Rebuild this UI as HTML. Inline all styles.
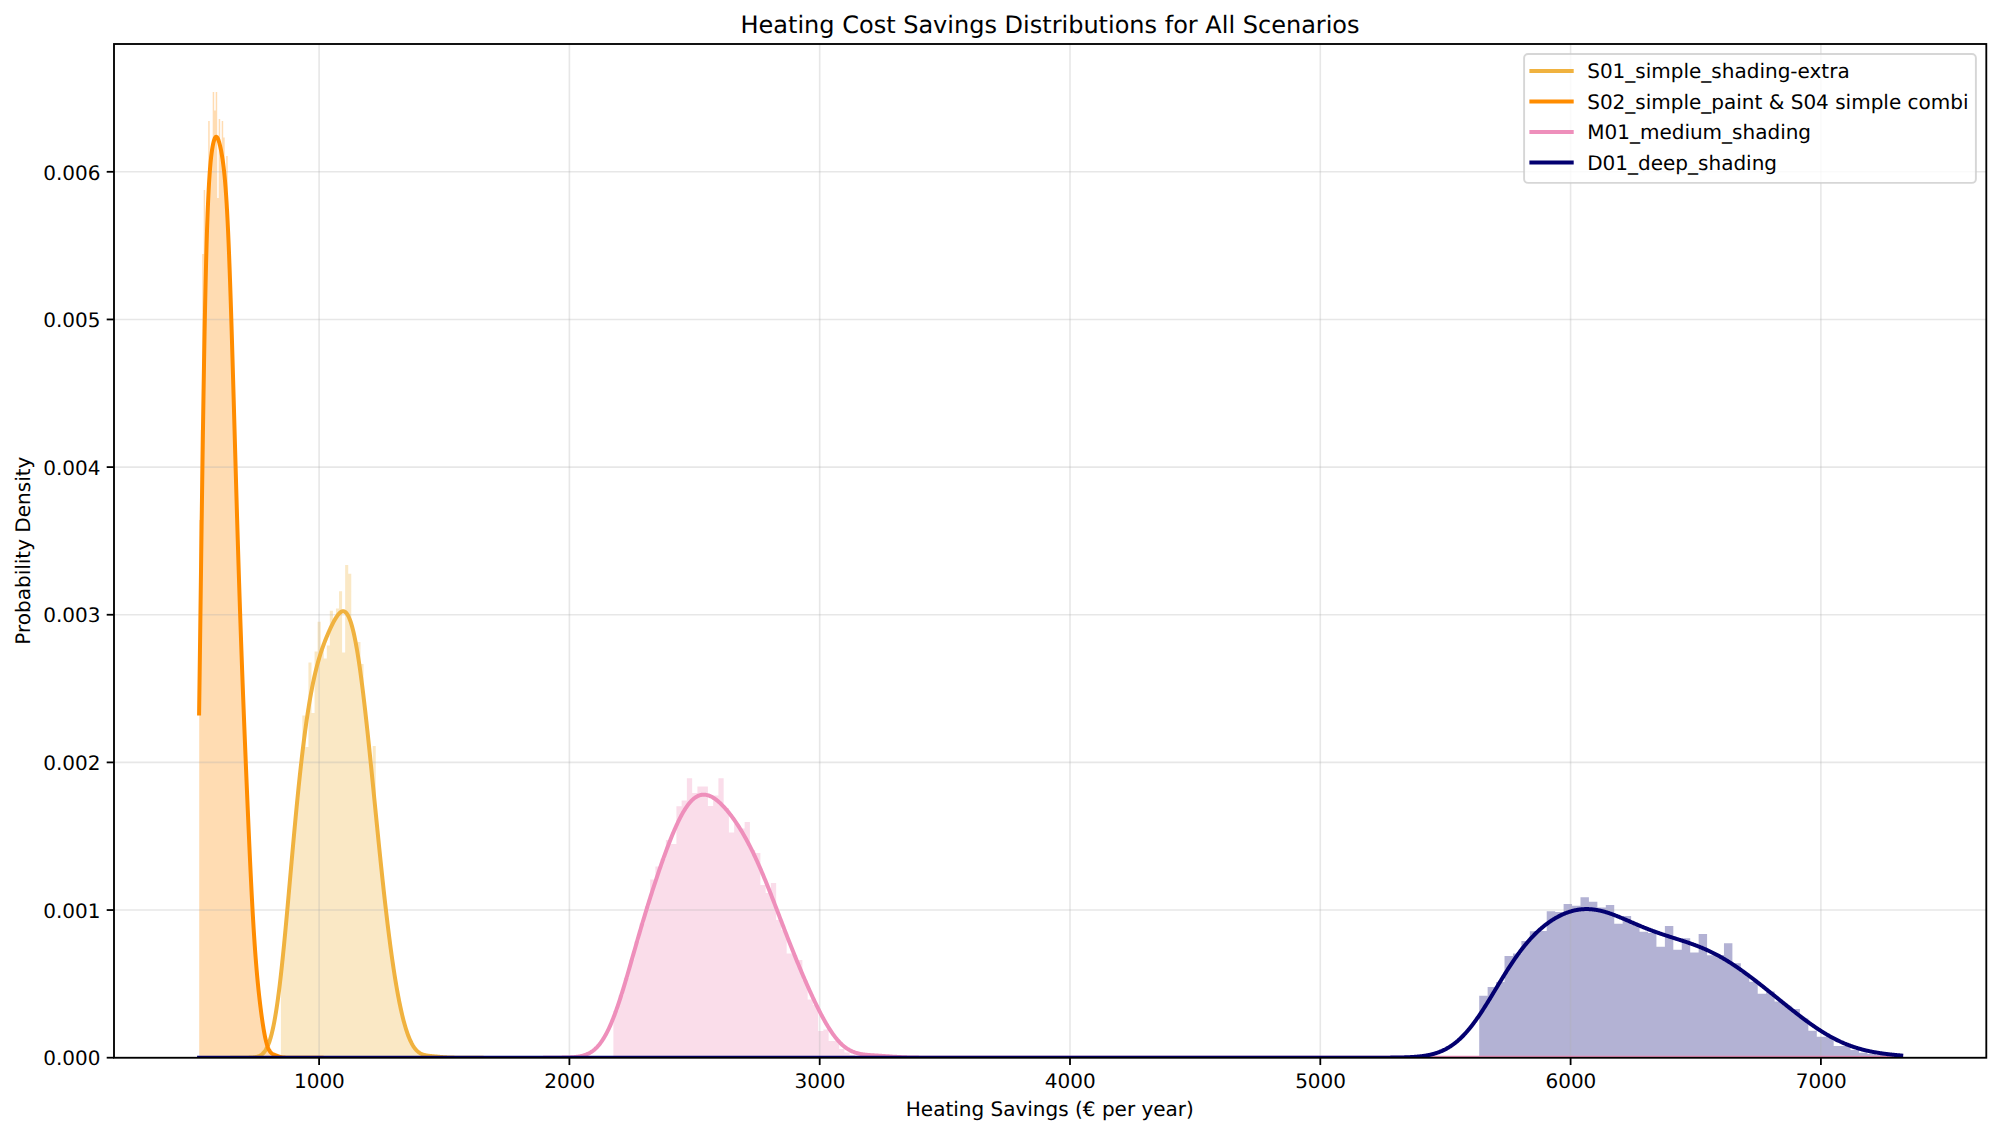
<!DOCTYPE html>
<html lang="en"><head><meta charset="utf-8"><title>Heating Cost Savings Distributions for All Scenarios</title>
<style>html,body{margin:0;padding:0;background:#fff}svg{display:block}</style></head>
<body>
<svg width="2000" height="1134" viewBox="0 0 2000 1134">
<defs><clipPath id="ax"><rect x="114.00" y="44.00" width="1872.30" height="1013.75"/></clipPath></defs>
<rect width="2000" height="1134" fill="#fff"/>
<g clip-path="url(#ax)">
<path d="M280.90,1059.70V960.64H283.96V929.56H287.02V895.96H290.08V861.49H293.14V827.70H296.20V795.85H299.26V766.78H302.32V715.60H305.38V747.00H308.44V662.50H311.50V713.00H314.56V651.50H317.62V621.80H320.68V648.64H323.74V658.50H326.80V645.50H329.86V610.80H332.92V620.36H335.98V608.50H339.04V591.20H342.10V652.50H345.16V565.00H348.22V573.80H351.28V629.30H354.34V643.56H357.40V642.00H360.46V664.00H363.52V709.62H366.58V737.58H369.64V767.28H372.70V746.00H375.76V828.67H378.82V858.81H381.88V887.68H384.94V914.73H388.00V939.57H391.06V961.93H394.12V981.68H397.18V998.77H400.24V1013.23H403.30V1025.13H406.36V1034.62H409.42V1041.89H412.48V1047.20H415.54V1050.85H418.60V1053.19H421.66V1054.59H424.72V1055.39H427.78V1055.85H430.84V1056.17H433.90V1059.70Z" fill="#f0b23f" fill-opacity="0.3"/>
<path d="M199.20,1059.70V520.00H200.70V430.00H202.20V254.00H203.70V190.00H205.20V268.18H206.70V217.70H208.20V121.00H209.70V163.71H211.20V150.66H212.70V92.00H214.20V110.50H215.70V92.00H217.20V198.00H218.70V119.00H220.20V149.96H221.70V121.00H223.20V137.50H224.70V186.22H226.20V156.00H227.70V239.61H229.20V278.28H230.70V323.79H232.20V374.02H233.70V426.51H235.20V479.02H236.70V529.88H238.20V578.06H239.70V623.17H241.20V665.28H242.70V704.84H244.20V742.49H245.70V778.78H247.20V813.93H248.70V847.70H250.20V879.42H251.70V908.28H253.20V933.65H254.70V955.35H256.20V973.69H257.70V989.28H259.20V1002.77H260.70V1014.61H262.20V1024.96H263.70V1033.75H265.20V1040.83H266.70V1046.16H268.20V1049.83H269.70V1052.15H271.20V1053.52H272.70V1054.37H274.20V1059.70Z" fill="#ff8c00" fill-opacity="0.3"/>
<path d="M613.40,1059.70V1010.82H618.65V995.16H623.90V977.90H629.15V959.78H634.40V941.50H639.65V923.56H644.90V906.24H650.15V879.50H655.40V866.50H660.65V858.74H665.90V840.00H671.15V844.00H676.40V806.20H681.65V800.50H686.90V778.30H692.15V793.00H697.40V786.50H702.65V786.50H707.90V806.00H713.15V795.50H718.40V778.30H723.65V808.00H728.90V832.50H734.15V824.00H739.40V828.50H744.65V822.00H749.90V850.00H755.15V853.00H760.40V885.00H765.65V893.00H770.90V883.00H776.15V920.00H781.40V930.00H786.65V953.50H791.90V955.09H797.15V960.00H802.40V980.16H807.65V999.50H812.90V1005.00H818.15V1031.00H823.40V1029.50H828.65V1041.00H833.90V1041.00H839.15V1049.00H844.40V1052.50H849.65V1055.00H854.90V1056.00H860.15V1056.50H865.40V1057.00H870.65V1057.00H875.90V1059.70Z" fill="#ee8fbb" fill-opacity="0.3"/>
<path d="M1479.20,1059.70V995.70H1487.64V987.00H1496.08V982.00H1504.52V956.00H1512.96V953.50H1521.40V941.00H1529.84V931.30H1538.28V931.00H1546.72V911.30H1555.16V912.00H1563.60V904.00H1572.04V905.80H1580.48V897.30H1588.92V901.70H1597.36V907.50H1605.80V905.00H1614.24V923.70H1622.68V916.00H1631.12V923.00H1639.56V931.80H1648.00V933.00H1656.44V946.70H1664.88V926.00H1673.32V949.80H1681.76V938.30H1690.20V952.40H1698.64V934.00H1707.08V955.30H1715.52V955.00H1723.96V943.20H1732.40V963.30H1740.84V973.00H1749.28V981.80H1757.72V993.70H1766.16V991.50H1774.60V1001.50H1783.04V1005.80H1791.48V1009.00H1799.92V1018.50H1808.36V1030.80H1816.80V1036.80H1825.24V1036.80H1833.68V1046.00H1842.12V1046.00H1850.56V1050.00H1859.00V1052.80H1867.44V1054.00H1875.88V1055.00H1884.32V1056.00H1892.76V1056.50H1901.20V1059.70Z" fill="#030070" fill-opacity="0.3"/>
</g>
<g stroke="#b0b0b0" stroke-opacity="0.3" stroke-width="1.6" fill="none">
<line x1="319.10" y1="44.0" x2="319.10" y2="1057.75"/>
<line x1="569.40" y1="44.0" x2="569.40" y2="1057.75"/>
<line x1="819.70" y1="44.0" x2="819.70" y2="1057.75"/>
<line x1="1070.00" y1="44.0" x2="1070.00" y2="1057.75"/>
<line x1="1320.30" y1="44.0" x2="1320.30" y2="1057.75"/>
<line x1="1570.60" y1="44.0" x2="1570.60" y2="1057.75"/>
<line x1="1820.90" y1="44.0" x2="1820.90" y2="1057.75"/>
<line x1="114.0" y1="1057.70" x2="1986.3" y2="1057.70"/>
<line x1="114.0" y1="910.05" x2="1986.3" y2="910.05"/>
<line x1="114.0" y1="762.40" x2="1986.3" y2="762.40"/>
<line x1="114.0" y1="614.75" x2="1986.3" y2="614.75"/>
<line x1="114.0" y1="467.10" x2="1986.3" y2="467.10"/>
<line x1="114.0" y1="319.45" x2="1986.3" y2="319.45"/>
<line x1="114.0" y1="171.80" x2="1986.3" y2="171.80"/>
</g>
<g clip-path="url(#ax)" fill="none" stroke-width="4" stroke-linejoin="round" stroke-linecap="square">
<path d="M232.10,1057.70 L245.10,1057.68 L245.60,1057.68 L246.10,1057.67 L246.60,1057.67 L247.10,1057.66 L247.60,1057.65 L248.10,1057.64 L248.60,1057.63 L249.10,1057.62 L249.60,1057.60 L250.10,1057.59 L250.60,1057.57 L251.10,1057.54 L251.60,1057.51 L252.10,1057.48 L252.60,1057.44 L253.10,1057.40 L253.60,1057.35 L254.10,1057.29 L254.60,1057.23 L255.10,1057.15 L255.60,1057.06 L256.10,1056.97 L256.60,1056.85 L257.10,1056.73 L257.60,1056.58 L258.10,1056.42 L258.60,1056.24 L259.10,1056.04 L259.60,1055.81 L260.10,1055.55 L260.60,1055.26 L261.10,1054.94 L261.60,1054.59 L262.10,1054.19 L262.60,1053.75 L263.10,1053.27 L263.60,1052.74 L264.10,1052.16 L264.60,1051.51 L265.10,1050.81 L265.60,1050.04 L266.10,1049.21 L266.60,1048.29 L267.10,1047.31 L267.60,1046.23 L268.10,1045.07 L268.60,1043.82 L269.10,1042.48 L269.60,1041.03 L270.10,1039.48 L270.60,1037.82 L271.10,1036.04 L271.60,1034.15 L272.10,1032.14 L272.60,1030.00 L273.10,1027.74 L273.60,1025.34 L274.10,1022.81 L274.60,1020.15 L275.10,1017.35 L275.60,1014.41 L276.10,1011.33 L276.60,1008.12 L277.10,1004.76 L277.60,1001.26 L278.10,997.62 L278.60,993.85 L279.10,989.94 L279.60,985.89 L280.10,981.72 L280.60,977.42 L281.10,972.99 L281.60,968.44 L282.10,963.78 L282.60,959.01 L283.10,954.13 L283.60,949.16 L284.10,944.09 L284.60,938.93 L285.10,933.70 L285.60,928.39 L286.10,923.02 L286.60,917.58 L287.10,912.10 L287.60,906.57 L288.10,901.00 L288.60,895.40 L289.10,889.79 L289.60,884.15 L290.10,878.51 L290.60,872.87 L291.10,867.23 L291.60,861.60 L292.10,856.00 L292.60,850.42 L293.10,844.87 L293.60,839.35 L294.10,833.88 L294.60,828.46 L295.10,823.09 L295.60,817.77 L296.10,812.52 L296.60,807.33 L297.10,802.20 L297.60,797.15 L298.10,792.18 L298.60,787.28 L299.10,782.46 L299.60,777.72 L300.10,773.07 L300.60,768.50 L301.10,764.02 L301.60,759.62 L302.10,755.31 L302.60,751.10 L303.10,746.97 L303.60,742.93 L304.10,738.98 L304.60,735.12 L305.10,731.36 L305.60,727.68 L306.10,724.09 L306.60,720.59 L307.10,717.18 L307.60,713.85 L308.10,710.61 L308.60,707.46 L309.10,704.39 L309.60,701.40 L310.10,698.50 L310.60,695.67 L311.10,692.93 L311.60,690.26 L312.10,687.67 L312.60,685.15 L313.10,682.70 L313.60,680.33 L314.10,678.03 L314.60,675.79 L315.10,673.62 L315.60,671.51 L316.10,669.47 L316.60,667.48 L317.10,665.55 L317.60,663.68 L318.10,661.86 L318.60,660.09 L319.10,658.37 L319.60,656.70 L320.10,655.07 L320.60,653.48 L321.10,651.94 L321.60,650.43 L322.10,648.96 L322.60,647.53 L323.10,646.12 L323.60,644.75 L324.10,643.41 L324.60,642.09 L325.10,640.80 L325.60,639.53 L326.10,638.29 L326.60,637.06 L327.10,635.86 L327.60,634.68 L328.10,633.51 L328.60,632.37 L329.10,631.24 L329.60,630.13 L330.10,629.04 L330.60,627.96 L331.10,626.90 L331.60,625.87 L332.10,624.85 L332.60,623.85 L333.10,622.87 L333.60,621.92 L334.10,620.99 L334.60,620.09 L335.10,619.21 L335.60,618.37 L336.10,617.56 L336.60,616.79 L337.10,616.05 L337.60,615.35 L338.10,614.70 L338.60,614.10 L339.10,613.54 L339.60,613.04 L340.10,612.59 L340.60,612.20 L341.10,611.88 L341.60,611.62 L342.10,611.42 L342.60,611.31 L343.10,611.26 L343.60,611.30 L344.10,611.42 L344.60,611.62 L345.10,611.91 L345.60,612.30 L346.10,612.77 L346.60,613.35 L347.10,614.02 L347.60,614.79 L348.10,615.67 L348.60,616.65 L349.10,617.74 L349.60,618.94 L350.10,620.24 L350.60,621.66 L351.10,623.20 L351.60,624.84 L352.10,626.60 L352.60,628.48 L353.10,630.47 L353.60,632.57 L354.10,634.79 L354.60,637.12 L355.10,639.57 L355.60,642.13 L356.10,644.81 L356.60,647.59 L357.10,650.48 L357.60,653.48 L358.10,656.59 L358.60,659.81 L359.10,663.12 L359.60,666.54 L360.10,670.05 L360.60,673.66 L361.10,677.37 L361.60,681.17 L362.10,685.05 L362.60,689.02 L363.10,693.08 L363.60,697.21 L364.10,701.42 L364.60,705.71 L365.10,710.06 L365.60,714.48 L366.10,718.97 L366.60,723.52 L367.10,728.12 L367.60,732.78 L368.10,737.48 L368.60,742.24 L369.10,747.04 L369.60,751.87 L370.10,756.75 L370.60,761.65 L371.10,766.59 L371.60,771.54 L372.10,776.53 L372.60,781.53 L373.10,786.54 L373.60,791.57 L374.10,796.60 L374.60,801.64 L375.10,806.67 L375.60,811.71 L376.10,816.74 L376.60,821.76 L377.10,826.77 L377.60,831.76 L378.10,836.74 L378.60,841.69 L379.10,846.62 L379.60,851.52 L380.10,856.39 L380.60,861.22 L381.10,866.03 L381.60,870.79 L382.10,875.51 L382.60,880.19 L383.10,884.83 L383.60,889.41 L384.10,893.95 L384.60,898.44 L385.10,902.87 L385.60,907.25 L386.10,911.57 L386.60,915.83 L387.10,920.03 L387.60,924.18 L388.10,928.25 L388.60,932.27 L389.10,936.22 L389.60,940.11 L390.10,943.93 L390.60,947.68 L391.10,951.36 L391.60,954.98 L392.10,958.52 L392.60,962.00 L393.10,965.41 L393.60,968.74 L394.10,972.01 L394.60,975.20 L395.10,978.33 L395.60,981.38 L396.10,984.36 L396.60,987.27 L397.10,990.11 L397.60,992.88 L398.10,995.58 L398.60,998.20 L399.10,1000.76 L399.60,1003.24 L400.10,1005.66 L400.60,1008.00 L401.10,1010.28 L401.60,1012.49 L402.10,1014.63 L402.60,1016.70 L403.10,1018.71 L403.60,1020.64 L404.10,1022.52 L404.60,1024.32 L405.10,1026.06 L405.60,1027.74 L406.10,1029.35 L406.60,1030.90 L407.10,1032.39 L407.60,1033.82 L408.10,1035.19 L408.60,1036.50 L409.10,1037.75 L409.60,1038.95 L410.10,1040.08 L410.60,1041.17 L411.10,1042.20 L411.60,1043.18 L412.10,1044.10 L412.60,1044.98 L413.10,1045.81 L413.60,1046.59 L414.10,1047.33 L414.60,1048.02 L415.10,1048.67 L415.60,1049.28 L416.10,1049.85 L416.60,1050.38 L417.10,1050.88 L417.60,1051.34 L418.10,1051.76 L418.60,1052.16 L419.10,1052.52 L419.60,1052.86 L420.10,1053.17 L420.60,1053.46 L421.10,1053.72 L421.60,1053.96 L422.10,1054.18 L422.60,1054.38 L423.10,1054.56 L423.60,1054.73 L424.10,1054.88 L424.60,1055.01 L425.10,1055.14 L425.60,1055.25 L426.10,1055.36 L426.60,1055.45 L427.10,1055.54 L427.60,1055.62 L428.10,1055.69 L428.60,1055.76 L429.10,1055.82 L429.60,1055.88 L430.10,1055.94 L430.60,1055.99 L431.10,1056.04 L431.60,1056.09 L432.10,1056.14 L432.60,1056.19 L433.10,1056.24 L433.60,1056.28 L434.10,1056.33 L434.60,1056.38 L435.10,1056.42 L435.60,1056.47 L436.10,1056.51 L436.60,1056.56 L437.10,1056.60 L437.60,1056.65 L438.10,1056.70 L438.60,1056.74 L439.10,1056.79 L439.60,1056.83 L440.10,1056.88 L440.60,1056.92 L441.10,1056.96 L441.60,1057.00 L442.10,1057.04 L442.60,1057.08 L443.10,1057.12 L443.60,1057.16 L444.10,1057.20 L444.60,1057.23 L445.10,1057.26 L445.60,1057.30 L446.10,1057.33 L446.60,1057.36 L447.10,1057.38 L447.60,1057.41 L448.10,1057.43 L448.60,1057.46 L449.10,1057.48 L449.60,1057.50 L450.10,1057.52 L450.60,1057.54 L451.10,1057.55 L451.60,1057.57 L452.10,1057.58 L452.60,1057.59 L453.10,1057.60 L453.60,1057.61 L454.10,1057.62 L454.60,1057.63 L455.10,1057.64 L455.60,1057.65 L456.10,1057.65 L456.60,1057.66 L457.10,1057.66 L457.60,1057.67 L458.10,1057.67 L458.60,1057.68 L459.10,1057.68 L459.60,1057.68 L481.60,1057.70" stroke="#f0b23f"/>
<path d="M199.10,713.46 L199.60,676.87 L200.10,639.48 L200.60,601.70 L201.10,563.94 L201.60,526.59 L202.10,490.07 L202.60,454.74 L203.10,420.94 L203.60,388.95 L204.10,359.01 L204.60,331.29 L205.10,305.89 L205.60,282.88 L206.10,262.23 L206.60,243.90 L207.10,227.76 L207.60,213.68 L208.10,201.48 L208.60,190.99 L209.10,181.99 L209.60,174.30 L210.10,167.73 L210.60,162.12 L211.10,157.31 L211.60,153.19 L212.10,149.65 L212.60,146.62 L213.10,144.04 L213.60,141.88 L214.10,140.11 L214.60,138.72 L215.10,137.71 L215.60,137.07 L216.10,136.79 L216.60,136.88 L217.10,137.31 L217.60,138.07 L218.10,139.14 L218.60,140.49 L219.10,142.09 L219.60,143.93 L220.10,145.99 L220.60,148.25 L221.10,150.72 L221.60,153.41 L222.10,156.34 L222.60,159.55 L223.10,163.10 L223.60,167.04 L224.10,171.44 L224.60,176.38 L225.10,181.93 L225.60,188.17 L226.10,195.17 L226.60,202.98 L227.10,211.66 L227.60,221.23 L228.10,231.72 L228.60,243.12 L229.10,255.42 L229.60,268.58 L230.10,282.55 L230.60,297.27 L231.10,312.66 L231.60,328.64 L232.10,345.12 L232.60,362.01 L233.10,379.21 L233.60,396.63 L234.10,414.19 L234.60,431.80 L235.10,449.38 L235.60,466.87 L236.10,484.21 L236.60,501.34 L237.10,518.23 L237.60,534.83 L238.10,551.12 L238.60,567.09 L239.10,582.72 L239.60,597.99 L240.10,612.92 L240.60,627.51 L241.10,641.76 L241.60,655.70 L242.10,669.34 L242.60,682.70 L243.10,695.81 L243.60,708.68 L244.10,721.36 L244.60,733.85 L245.10,746.18 L245.60,758.36 L246.10,770.41 L246.60,782.35 L247.10,794.15 L247.60,805.83 L248.10,817.38 L248.60,828.76 L249.10,839.97 L249.60,850.98 L250.10,861.75 L250.60,872.25 L251.10,882.45 L251.60,892.33 L252.10,901.85 L252.60,910.99 L253.10,919.73 L253.60,928.06 L254.10,935.99 L254.60,943.50 L255.10,950.61 L255.60,957.33 L256.10,963.68 L256.60,969.68 L257.10,975.36 L257.60,980.74 L258.10,985.85 L258.60,990.72 L259.10,995.35 L259.60,999.79 L260.10,1004.03 L260.60,1008.09 L261.10,1011.99 L261.60,1015.72 L262.10,1019.28 L262.60,1022.68 L263.10,1025.91 L263.60,1028.97 L264.10,1031.84 L264.60,1034.53 L265.10,1037.03 L265.60,1039.34 L266.10,1041.44 L266.60,1043.35 L267.10,1045.07 L267.60,1046.59 L268.10,1047.94 L268.60,1049.11 L269.10,1050.11 L269.60,1050.98 L270.10,1051.70 L270.60,1052.32 L271.10,1052.83 L271.60,1053.26 L272.10,1053.62 L272.60,1053.93 L273.10,1054.20 L273.60,1054.44 L274.10,1054.66 L274.60,1054.87 L275.10,1055.07 L275.60,1055.27 L276.10,1055.47 L276.60,1055.66 L277.10,1055.86 L277.60,1056.05 L278.10,1056.23 L278.60,1056.41 L279.10,1056.58 L279.60,1056.73 L280.10,1056.88 L280.60,1057.01 L281.10,1057.13 L281.60,1057.23 L282.10,1057.32 L282.60,1057.39 L283.10,1057.46 L283.60,1057.51 L284.10,1057.55 L284.60,1057.59 L285.10,1057.62 L285.60,1057.64 L286.10,1057.65 L286.60,1057.67 L287.10,1057.68 L287.60,1057.68 L321.60,1057.70" stroke="#ff8c00"/>
<path d="M545.10,1057.70 L555.10,1057.68 L555.60,1057.68 L556.10,1057.68 L556.60,1057.67 L557.10,1057.67 L557.60,1057.67 L558.10,1057.67 L558.60,1057.66 L559.10,1057.66 L559.60,1057.65 L560.10,1057.65 L560.60,1057.64 L561.10,1057.64 L561.60,1057.63 L562.10,1057.62 L562.60,1057.62 L563.10,1057.61 L563.60,1057.60 L564.10,1057.59 L564.60,1057.58 L565.10,1057.57 L565.60,1057.56 L566.10,1057.54 L566.60,1057.53 L567.10,1057.52 L567.60,1057.50 L568.10,1057.48 L568.60,1057.46 L569.10,1057.44 L569.60,1057.42 L570.10,1057.39 L570.60,1057.37 L571.10,1057.34 L571.60,1057.31 L572.10,1057.27 L572.60,1057.24 L573.10,1057.20 L573.60,1057.16 L574.10,1057.12 L574.60,1057.07 L575.10,1057.02 L575.60,1056.97 L576.10,1056.91 L576.60,1056.85 L577.10,1056.78 L577.60,1056.71 L578.10,1056.64 L578.60,1056.56 L579.10,1056.47 L579.60,1056.38 L580.10,1056.29 L580.60,1056.18 L581.10,1056.08 L581.60,1055.96 L582.10,1055.84 L582.60,1055.71 L583.10,1055.57 L583.60,1055.43 L584.10,1055.28 L584.60,1055.11 L585.10,1054.94 L585.60,1054.76 L586.10,1054.57 L586.60,1054.37 L587.10,1054.16 L587.60,1053.94 L588.10,1053.71 L588.60,1053.46 L589.10,1053.20 L589.60,1052.93 L590.10,1052.65 L590.60,1052.35 L591.10,1052.04 L591.60,1051.71 L592.10,1051.37 L592.60,1051.02 L593.10,1050.65 L593.60,1050.26 L594.10,1049.85 L594.60,1049.43 L595.10,1048.99 L595.60,1048.53 L596.10,1048.05 L596.60,1047.56 L597.10,1047.04 L597.60,1046.50 L598.10,1045.95 L598.60,1045.37 L599.10,1044.78 L599.60,1044.16 L600.10,1043.52 L600.60,1042.86 L601.10,1042.17 L601.60,1041.46 L602.10,1040.74 L602.60,1039.98 L603.10,1039.21 L603.60,1038.41 L604.10,1037.58 L604.60,1036.74 L605.10,1035.86 L605.60,1034.97 L606.10,1034.05 L606.60,1033.10 L607.10,1032.13 L607.60,1031.14 L608.10,1030.12 L608.60,1029.08 L609.10,1028.01 L609.60,1026.92 L610.10,1025.81 L610.60,1024.67 L611.10,1023.50 L611.60,1022.32 L612.10,1021.11 L612.60,1019.87 L613.10,1018.62 L613.60,1017.34 L614.10,1016.04 L614.60,1014.71 L615.10,1013.37 L615.60,1012.00 L616.10,1010.61 L616.60,1009.21 L617.10,1007.78 L617.60,1006.33 L618.10,1004.87 L618.60,1003.38 L619.10,1001.88 L619.60,1000.36 L620.10,998.83 L620.60,997.28 L621.10,995.71 L621.60,994.13 L622.10,992.53 L622.60,990.93 L623.10,989.30 L623.60,987.67 L624.10,986.02 L624.60,984.37 L625.10,982.70 L625.60,981.02 L626.10,979.34 L626.60,977.64 L627.10,975.94 L627.60,974.24 L628.10,972.52 L628.60,970.80 L629.10,969.08 L629.60,967.35 L630.10,965.61 L630.60,963.87 L631.10,962.13 L631.60,960.39 L632.10,958.65 L632.60,956.91 L633.10,955.16 L633.60,953.42 L634.10,951.67 L634.60,949.93 L635.10,948.19 L635.60,946.44 L636.10,944.71 L636.60,942.97 L637.10,941.24 L637.60,939.51 L638.10,937.78 L638.60,936.06 L639.10,934.35 L639.60,932.63 L640.10,930.92 L640.60,929.22 L641.10,927.52 L641.60,925.83 L642.10,924.15 L642.60,922.46 L643.10,920.79 L643.60,919.12 L644.10,917.46 L644.60,915.80 L645.10,914.15 L645.60,912.51 L646.10,910.87 L646.60,909.24 L647.10,907.62 L647.60,906.00 L648.10,904.39 L648.60,902.79 L649.10,901.19 L649.60,899.60 L650.10,898.02 L650.60,896.44 L651.10,894.87 L651.60,893.31 L652.10,891.75 L652.60,890.20 L653.10,888.66 L653.60,887.12 L654.10,885.59 L654.60,884.07 L655.10,882.55 L655.60,881.04 L656.10,879.54 L656.60,878.04 L657.10,876.55 L657.60,875.07 L658.10,873.60 L658.60,872.13 L659.10,870.67 L659.60,869.21 L660.10,867.76 L660.60,866.32 L661.10,864.89 L661.60,863.46 L662.10,862.05 L662.60,860.63 L663.10,859.23 L663.60,857.84 L664.10,856.45 L664.60,855.07 L665.10,853.70 L665.60,852.34 L666.10,850.99 L666.60,849.65 L667.10,848.31 L667.60,846.99 L668.10,845.68 L668.60,844.37 L669.10,843.08 L669.60,841.80 L670.10,840.53 L670.60,839.26 L671.10,838.02 L671.60,836.78 L672.10,835.55 L672.60,834.34 L673.10,833.14 L673.60,831.96 L674.10,830.78 L674.60,829.63 L675.10,828.48 L675.60,827.35 L676.10,826.24 L676.60,825.14 L677.10,824.05 L677.60,822.98 L678.10,821.93 L678.60,820.89 L679.10,819.88 L679.60,818.87 L680.10,817.89 L680.60,816.92 L681.10,815.97 L681.60,815.04 L682.10,814.13 L682.60,813.24 L683.10,812.36 L683.60,811.51 L684.10,810.68 L684.60,809.86 L685.10,809.07 L685.60,808.29 L686.10,807.54 L686.60,806.81 L687.10,806.09 L687.60,805.40 L688.10,804.73 L688.60,804.09 L689.10,803.46 L689.60,802.85 L690.10,802.27 L690.60,801.71 L691.10,801.17 L691.60,800.65 L692.10,800.16 L692.60,799.68 L693.10,799.23 L693.60,798.80 L694.10,798.39 L694.60,798.01 L695.10,797.64 L695.60,797.30 L696.10,796.98 L696.60,796.68 L697.10,796.40 L697.60,796.14 L698.10,795.91 L698.60,795.69 L699.10,795.50 L699.60,795.33 L700.10,795.18 L700.60,795.04 L701.10,794.93 L701.60,794.84 L702.10,794.77 L702.60,794.72 L703.10,794.68 L703.60,794.67 L704.10,794.67 L704.60,794.70 L705.10,794.74 L705.60,794.80 L706.10,794.88 L706.60,794.97 L707.10,795.08 L707.60,795.21 L708.10,795.36 L708.60,795.52 L709.10,795.69 L709.60,795.89 L710.10,796.10 L710.60,796.32 L711.10,796.56 L711.60,796.81 L712.10,797.08 L712.60,797.36 L713.10,797.66 L713.60,797.97 L714.10,798.29 L714.60,798.62 L715.10,798.97 L715.60,799.33 L716.10,799.70 L716.60,800.09 L717.10,800.48 L717.60,800.89 L718.10,801.31 L718.60,801.74 L719.10,802.18 L719.60,802.63 L720.10,803.09 L720.60,803.56 L721.10,804.04 L721.60,804.54 L722.10,805.04 L722.60,805.55 L723.10,806.07 L723.60,806.60 L724.10,807.14 L724.60,807.68 L725.10,808.24 L725.60,808.80 L726.10,809.38 L726.60,809.96 L727.10,810.55 L727.60,811.15 L728.10,811.76 L728.60,812.37 L729.10,813.00 L729.60,813.63 L730.10,814.27 L730.60,814.92 L731.10,815.58 L731.60,816.24 L732.10,816.91 L732.60,817.59 L733.10,818.28 L733.60,818.98 L734.10,819.69 L734.60,820.40 L735.10,821.12 L735.60,821.85 L736.10,822.59 L736.60,823.33 L737.10,824.08 L737.60,824.85 L738.10,825.62 L738.60,826.39 L739.10,827.18 L739.60,827.98 L740.10,828.78 L740.60,829.59 L741.10,830.41 L741.60,831.24 L742.10,832.08 L742.60,832.92 L743.10,833.78 L743.60,834.64 L744.10,835.51 L744.60,836.39 L745.10,837.28 L745.60,838.18 L746.10,839.08 L746.60,840.00 L747.10,840.92 L747.60,841.86 L748.10,842.80 L748.60,843.75 L749.10,844.71 L749.60,845.68 L750.10,846.65 L750.60,847.64 L751.10,848.64 L751.60,849.64 L752.10,850.65 L752.60,851.67 L753.10,852.70 L753.60,853.74 L754.10,854.79 L754.60,855.85 L755.10,856.91 L755.60,857.98 L756.10,859.07 L756.60,860.16 L757.10,861.25 L757.60,862.36 L758.10,863.47 L758.60,864.60 L759.10,865.73 L759.60,866.86 L760.10,868.01 L760.60,869.16 L761.10,870.32 L761.60,871.49 L762.10,872.67 L762.60,873.85 L763.10,875.04 L763.60,876.23 L764.10,877.43 L764.60,878.64 L765.10,879.86 L765.60,881.08 L766.10,882.30 L766.60,883.54 L767.10,884.77 L767.60,886.02 L768.10,887.26 L768.60,888.52 L769.10,889.77 L769.60,891.03 L770.10,892.30 L770.60,893.57 L771.10,894.84 L771.60,896.12 L772.10,897.40 L772.60,898.69 L773.10,899.97 L773.60,901.26 L774.10,902.56 L774.60,903.85 L775.10,905.15 L775.60,906.44 L776.10,907.74 L776.60,909.05 L777.10,910.35 L777.60,911.65 L778.10,912.96 L778.60,914.26 L779.10,915.57 L779.60,916.87 L780.10,918.18 L780.60,919.48 L781.10,920.79 L781.60,922.09 L782.10,923.40 L782.60,924.70 L783.10,926.00 L783.60,927.30 L784.10,928.60 L784.60,929.90 L785.10,931.19 L785.60,932.48 L786.10,933.77 L786.60,935.06 L787.10,936.35 L787.60,937.63 L788.10,938.91 L788.60,940.19 L789.10,941.47 L789.60,942.74 L790.10,944.01 L790.60,945.28 L791.10,946.54 L791.60,947.80 L792.10,949.05 L792.60,950.31 L793.10,951.55 L793.60,952.80 L794.10,954.04 L794.60,955.28 L795.10,956.51 L795.60,957.74 L796.10,958.97 L796.60,960.19 L797.10,961.41 L797.60,962.62 L798.10,963.83 L798.60,965.04 L799.10,966.24 L799.60,967.44 L800.10,968.63 L800.60,969.82 L801.10,971.01 L801.60,972.19 L802.10,973.37 L802.60,974.54 L803.10,975.71 L803.60,976.87 L804.10,978.03 L804.60,979.18 L805.10,980.33 L805.60,981.48 L806.10,982.62 L806.60,983.76 L807.10,984.89 L807.60,986.02 L808.10,987.14 L808.60,988.26 L809.10,989.37 L809.60,990.48 L810.10,991.58 L810.60,992.68 L811.10,993.77 L811.60,994.85 L812.10,995.94 L812.60,997.01 L813.10,998.08 L813.60,999.15 L814.10,1000.20 L814.60,1001.26 L815.10,1002.30 L815.60,1003.34 L816.10,1004.38 L816.60,1005.40 L817.10,1006.42 L817.60,1007.43 L818.10,1008.44 L818.60,1009.44 L819.10,1010.43 L819.60,1011.41 L820.10,1012.39 L820.60,1013.35 L821.10,1014.31 L821.60,1015.26 L822.10,1016.20 L822.60,1017.14 L823.10,1018.06 L823.60,1018.98 L824.10,1019.88 L824.60,1020.78 L825.10,1021.66 L825.60,1022.54 L826.10,1023.40 L826.60,1024.26 L827.10,1025.10 L827.60,1025.93 L828.10,1026.75 L828.60,1027.56 L829.10,1028.36 L829.60,1029.15 L830.10,1029.93 L830.60,1030.69 L831.10,1031.44 L831.60,1032.18 L832.10,1032.91 L832.60,1033.62 L833.10,1034.32 L833.60,1035.01 L834.10,1035.69 L834.60,1036.35 L835.10,1037.00 L835.60,1037.64 L836.10,1038.26 L836.60,1038.87 L837.10,1039.47 L837.60,1040.05 L838.10,1040.62 L838.60,1041.18 L839.10,1041.72 L839.60,1042.25 L840.10,1042.77 L840.60,1043.27 L841.10,1043.76 L841.60,1044.23 L842.10,1044.70 L842.60,1045.15 L843.10,1045.58 L843.60,1046.01 L844.10,1046.42 L844.60,1046.81 L845.10,1047.20 L845.60,1047.57 L846.10,1047.93 L846.60,1048.28 L847.10,1048.62 L847.60,1048.94 L848.10,1049.25 L848.60,1049.55 L849.10,1049.84 L849.60,1050.12 L850.10,1050.39 L850.60,1050.65 L851.10,1050.89 L851.60,1051.13 L852.10,1051.36 L852.60,1051.57 L853.10,1051.78 L853.60,1051.98 L854.10,1052.17 L854.60,1052.35 L855.10,1052.52 L855.60,1052.69 L856.10,1052.84 L856.60,1052.99 L857.10,1053.13 L857.60,1053.27 L858.10,1053.40 L858.60,1053.52 L859.10,1053.63 L859.60,1053.74 L860.10,1053.85 L860.60,1053.94 L861.10,1054.04 L861.60,1054.12 L862.10,1054.21 L862.60,1054.29 L863.10,1054.36 L863.60,1054.43 L864.10,1054.50 L864.60,1054.56 L865.10,1054.62 L865.60,1054.68 L866.10,1054.73 L866.60,1054.79 L867.10,1054.84 L867.60,1054.88 L868.10,1054.93 L868.60,1054.97 L869.10,1055.01 L869.60,1055.05 L870.10,1055.09 L870.60,1055.13 L871.10,1055.17 L871.60,1055.20 L872.10,1055.24 L872.60,1055.27 L873.10,1055.30 L873.60,1055.34 L874.10,1055.37 L874.60,1055.40 L875.10,1055.43 L875.60,1055.46 L876.10,1055.50 L876.60,1055.53 L877.10,1055.56 L877.60,1055.59 L878.10,1055.62 L878.60,1055.66 L879.10,1055.69 L879.60,1055.72 L880.10,1055.75 L880.60,1055.79 L881.10,1055.82 L881.60,1055.85 L882.10,1055.89 L882.60,1055.92 L883.10,1055.95 L883.60,1055.99 L884.10,1056.02 L884.60,1056.06 L885.10,1056.09 L885.60,1056.13 L886.10,1056.16 L886.60,1056.20 L887.10,1056.23 L887.60,1056.27 L888.10,1056.30 L888.60,1056.34 L889.10,1056.37 L889.60,1056.41 L890.10,1056.44 L890.60,1056.48 L891.10,1056.51 L891.60,1056.55 L892.10,1056.58 L892.60,1056.62 L893.10,1056.65 L893.60,1056.68 L894.10,1056.72 L894.60,1056.75 L895.10,1056.78 L895.60,1056.81 L896.10,1056.84 L896.60,1056.87 L897.10,1056.90 L897.60,1056.93 L898.10,1056.96 L898.60,1056.99 L899.10,1057.02 L899.60,1057.05 L900.10,1057.07 L900.60,1057.10 L901.10,1057.12 L901.60,1057.15 L902.10,1057.17 L902.60,1057.20 L903.10,1057.22 L903.60,1057.24 L904.10,1057.26 L904.60,1057.28 L905.10,1057.30 L905.60,1057.32 L906.10,1057.34 L906.60,1057.36 L907.10,1057.38 L907.60,1057.39 L908.10,1057.41 L908.60,1057.42 L909.10,1057.44 L909.60,1057.45 L910.10,1057.47 L910.60,1057.48 L911.10,1057.49 L911.60,1057.50 L912.10,1057.51 L912.60,1057.52 L913.10,1057.54 L913.60,1057.55 L914.10,1057.55 L914.60,1057.56 L915.10,1057.57 L915.60,1057.58 L916.10,1057.59 L916.60,1057.59 L917.10,1057.60 L917.60,1057.61 L918.10,1057.61 L918.60,1057.62 L919.10,1057.63 L919.60,1057.63 L920.10,1057.63 L920.60,1057.64 L921.10,1057.64 L921.60,1057.65 L922.10,1057.65 L922.60,1057.65 L923.10,1057.66 L923.60,1057.66 L924.10,1057.66 L924.60,1057.67 L925.10,1057.67 L925.60,1057.67 L926.10,1057.67 L926.60,1057.68 L927.10,1057.68 L927.60,1057.68 L928.10,1057.68 L1901.20,1057.70" stroke="#ee8fbb"/>
<path d="M199.10,1057.70 L1379.10,1057.68 L1379.60,1057.68 L1380.10,1057.68 L1380.60,1057.68 L1381.10,1057.68 L1381.60,1057.67 L1382.10,1057.67 L1382.60,1057.67 L1383.10,1057.67 L1383.60,1057.67 L1384.10,1057.66 L1384.60,1057.66 L1385.10,1057.66 L1385.60,1057.66 L1386.10,1057.66 L1386.60,1057.65 L1387.10,1057.65 L1387.60,1057.65 L1388.10,1057.64 L1388.60,1057.64 L1389.10,1057.64 L1389.60,1057.63 L1390.10,1057.63 L1390.60,1057.62 L1391.10,1057.62 L1391.60,1057.62 L1392.10,1057.61 L1392.60,1057.61 L1393.10,1057.60 L1393.60,1057.60 L1394.10,1057.59 L1394.60,1057.58 L1395.10,1057.58 L1395.60,1057.57 L1396.10,1057.56 L1396.60,1057.56 L1397.10,1057.55 L1397.60,1057.54 L1398.10,1057.53 L1398.60,1057.52 L1399.10,1057.51 L1399.60,1057.50 L1400.10,1057.49 L1400.60,1057.48 L1401.10,1057.47 L1401.60,1057.46 L1402.10,1057.45 L1402.60,1057.43 L1403.10,1057.42 L1403.60,1057.40 L1404.10,1057.39 L1404.60,1057.37 L1405.10,1057.36 L1405.60,1057.34 L1406.10,1057.32 L1406.60,1057.30 L1407.10,1057.28 L1407.60,1057.26 L1408.10,1057.24 L1408.60,1057.22 L1409.10,1057.20 L1409.60,1057.17 L1410.10,1057.15 L1410.60,1057.12 L1411.10,1057.09 L1411.60,1057.06 L1412.10,1057.03 L1412.60,1057.00 L1413.10,1056.97 L1413.60,1056.94 L1414.10,1056.90 L1414.60,1056.87 L1415.10,1056.83 L1415.60,1056.79 L1416.10,1056.75 L1416.60,1056.70 L1417.10,1056.66 L1417.60,1056.61 L1418.10,1056.57 L1418.60,1056.52 L1419.10,1056.46 L1419.60,1056.41 L1420.10,1056.36 L1420.60,1056.30 L1421.10,1056.24 L1421.60,1056.18 L1422.10,1056.11 L1422.60,1056.05 L1423.10,1055.98 L1423.60,1055.91 L1424.10,1055.83 L1424.60,1055.76 L1425.10,1055.68 L1425.60,1055.60 L1426.10,1055.51 L1426.60,1055.42 L1427.10,1055.33 L1427.60,1055.24 L1428.10,1055.14 L1428.60,1055.04 L1429.10,1054.94 L1429.60,1054.84 L1430.10,1054.73 L1430.60,1054.61 L1431.10,1054.50 L1431.60,1054.38 L1432.10,1054.25 L1432.60,1054.12 L1433.10,1053.99 L1433.60,1053.86 L1434.10,1053.72 L1434.60,1053.57 L1435.10,1053.42 L1435.60,1053.27 L1436.10,1053.11 L1436.60,1052.95 L1437.10,1052.78 L1437.60,1052.61 L1438.10,1052.44 L1438.60,1052.26 L1439.10,1052.07 L1439.60,1051.88 L1440.10,1051.68 L1440.60,1051.48 L1441.10,1051.28 L1441.60,1051.06 L1442.10,1050.85 L1442.60,1050.62 L1443.10,1050.39 L1443.60,1050.16 L1444.10,1049.92 L1444.60,1049.67 L1445.10,1049.42 L1445.60,1049.16 L1446.10,1048.90 L1446.60,1048.63 L1447.10,1048.35 L1447.60,1048.06 L1448.10,1047.77 L1448.60,1047.48 L1449.10,1047.17 L1449.60,1046.86 L1450.10,1046.55 L1450.60,1046.22 L1451.10,1045.89 L1451.60,1045.55 L1452.10,1045.21 L1452.60,1044.86 L1453.10,1044.50 L1453.60,1044.13 L1454.10,1043.76 L1454.60,1043.38 L1455.10,1042.99 L1455.60,1042.59 L1456.10,1042.19 L1456.60,1041.78 L1457.10,1041.36 L1457.60,1040.94 L1458.10,1040.50 L1458.60,1040.06 L1459.10,1039.61 L1459.60,1039.16 L1460.10,1038.69 L1460.60,1038.22 L1461.10,1037.74 L1461.60,1037.25 L1462.10,1036.76 L1462.60,1036.25 L1463.10,1035.74 L1463.60,1035.23 L1464.10,1034.70 L1464.60,1034.17 L1465.10,1033.63 L1465.60,1033.08 L1466.10,1032.52 L1466.60,1031.96 L1467.10,1031.38 L1467.60,1030.80 L1468.10,1030.22 L1468.60,1029.62 L1469.10,1029.02 L1469.60,1028.41 L1470.10,1027.80 L1470.60,1027.17 L1471.10,1026.54 L1471.60,1025.91 L1472.10,1025.26 L1472.60,1024.61 L1473.10,1023.95 L1473.60,1023.29 L1474.10,1022.62 L1474.60,1021.94 L1475.10,1021.25 L1475.60,1020.56 L1476.10,1019.87 L1476.60,1019.16 L1477.10,1018.45 L1477.60,1017.74 L1478.10,1017.02 L1478.60,1016.29 L1479.10,1015.56 L1479.60,1014.82 L1480.10,1014.08 L1480.60,1013.33 L1481.10,1012.58 L1481.60,1011.82 L1482.10,1011.06 L1482.60,1010.29 L1483.10,1009.52 L1483.60,1008.74 L1484.10,1007.96 L1484.60,1007.18 L1485.10,1006.39 L1485.60,1005.60 L1486.10,1004.80 L1486.60,1004.00 L1487.10,1003.20 L1487.60,1002.40 L1488.10,1001.59 L1488.60,1000.78 L1489.10,999.97 L1489.60,999.15 L1490.10,998.34 L1490.60,997.52 L1491.10,996.70 L1491.60,995.87 L1492.10,995.05 L1492.60,994.22 L1493.10,993.40 L1493.60,992.57 L1494.10,991.74 L1494.60,990.92 L1495.10,990.09 L1495.60,989.26 L1496.10,988.43 L1496.60,987.60 L1497.10,986.77 L1497.60,985.94 L1498.10,985.11 L1498.60,984.29 L1499.10,983.46 L1499.60,982.64 L1500.10,981.81 L1500.60,980.99 L1501.10,980.17 L1501.60,979.35 L1502.10,978.54 L1502.60,977.72 L1503.10,976.91 L1503.60,976.10 L1504.10,975.29 L1504.60,974.48 L1505.10,973.68 L1505.60,972.88 L1506.10,972.09 L1506.60,971.29 L1507.10,970.50 L1507.60,969.72 L1508.10,968.93 L1508.60,968.15 L1509.10,967.38 L1509.60,966.61 L1510.10,965.84 L1510.60,965.08 L1511.10,964.32 L1511.60,963.56 L1512.10,962.81 L1512.60,962.07 L1513.10,961.32 L1513.60,960.59 L1514.10,959.86 L1514.60,959.13 L1515.10,958.41 L1515.60,957.69 L1516.10,956.98 L1516.60,956.27 L1517.10,955.57 L1517.60,954.87 L1518.10,954.18 L1518.60,953.49 L1519.10,952.81 L1519.60,952.14 L1520.10,951.47 L1520.60,950.80 L1521.10,950.14 L1521.60,949.49 L1522.10,948.84 L1522.60,948.20 L1523.10,947.57 L1523.60,946.94 L1524.10,946.31 L1524.60,945.69 L1525.10,945.08 L1525.60,944.47 L1526.10,943.87 L1526.60,943.27 L1527.10,942.68 L1527.60,942.10 L1528.10,941.52 L1528.60,940.95 L1529.10,940.38 L1529.60,939.82 L1530.10,939.26 L1530.60,938.71 L1531.10,938.17 L1531.60,937.63 L1532.10,937.10 L1532.60,936.57 L1533.10,936.05 L1533.60,935.53 L1534.10,935.02 L1534.60,934.52 L1535.10,934.02 L1535.60,933.52 L1536.10,933.03 L1536.60,932.55 L1537.10,932.07 L1537.60,931.60 L1538.10,931.14 L1538.60,930.68 L1539.10,930.22 L1539.60,929.77 L1540.10,929.33 L1540.60,928.89 L1541.10,928.45 L1541.60,928.02 L1542.10,927.60 L1542.60,927.18 L1543.10,926.77 L1543.60,926.36 L1544.10,925.96 L1544.60,925.56 L1545.10,925.17 L1545.60,924.78 L1546.10,924.39 L1546.60,924.02 L1547.10,923.64 L1547.60,923.28 L1548.10,922.91 L1548.60,922.55 L1549.10,922.20 L1549.60,921.85 L1550.10,921.51 L1550.60,921.17 L1551.10,920.84 L1551.60,920.51 L1552.10,920.18 L1552.60,919.86 L1553.10,919.55 L1553.60,919.24 L1554.10,918.93 L1554.60,918.63 L1555.10,918.33 L1555.60,918.04 L1556.10,917.76 L1556.60,917.47 L1557.10,917.20 L1557.60,916.92 L1558.10,916.65 L1558.60,916.39 L1559.10,916.13 L1559.60,915.88 L1560.10,915.63 L1560.60,915.38 L1561.10,915.14 L1561.60,914.91 L1562.10,914.68 L1562.60,914.45 L1563.10,914.23 L1563.60,914.01 L1564.10,913.80 L1564.60,913.59 L1565.10,913.39 L1565.60,913.19 L1566.10,912.99 L1566.60,912.80 L1567.10,912.62 L1567.60,912.44 L1568.10,912.26 L1568.60,912.09 L1569.10,911.93 L1569.60,911.77 L1570.10,911.61 L1570.60,911.46 L1571.10,911.31 L1571.60,911.17 L1572.10,911.03 L1572.60,910.90 L1573.10,910.77 L1573.60,910.64 L1574.10,910.53 L1574.60,910.41 L1575.10,910.30 L1575.60,910.20 L1576.10,910.10 L1576.60,910.00 L1577.10,909.91 L1577.60,909.82 L1578.10,909.74 L1578.60,909.67 L1579.10,909.60 L1579.60,909.53 L1580.10,909.47 L1580.60,909.41 L1581.10,909.36 L1581.60,909.31 L1582.10,909.26 L1582.60,909.23 L1583.10,909.19 L1583.60,909.16 L1584.10,909.14 L1584.60,909.12 L1585.10,909.10 L1585.60,909.09 L1586.10,909.08 L1586.60,909.08 L1587.10,909.08 L1587.60,909.09 L1588.10,909.10 L1588.60,909.12 L1589.10,909.14 L1589.60,909.17 L1590.10,909.19 L1590.60,909.23 L1591.10,909.27 L1591.60,909.31 L1592.10,909.36 L1592.60,909.41 L1593.10,909.46 L1593.60,909.52 L1594.10,909.59 L1594.60,909.65 L1595.10,909.72 L1595.60,909.80 L1596.10,909.88 L1596.60,909.96 L1597.10,910.05 L1597.60,910.14 L1598.10,910.24 L1598.60,910.34 L1599.10,910.44 L1599.60,910.55 L1600.10,910.66 L1600.60,910.77 L1601.10,910.89 L1601.60,911.01 L1602.10,911.13 L1602.60,911.26 L1603.10,911.39 L1603.60,911.52 L1604.10,911.66 L1604.60,911.80 L1605.10,911.94 L1605.60,912.09 L1606.10,912.24 L1606.60,912.39 L1607.10,912.54 L1607.60,912.70 L1608.10,912.86 L1608.60,913.02 L1609.10,913.19 L1609.60,913.36 L1610.10,913.53 L1610.60,913.70 L1611.10,913.87 L1611.60,914.05 L1612.10,914.23 L1612.60,914.41 L1613.10,914.60 L1613.60,914.78 L1614.10,914.97 L1614.60,915.16 L1615.10,915.35 L1615.60,915.54 L1616.10,915.74 L1616.60,915.93 L1617.10,916.13 L1617.60,916.33 L1618.10,916.53 L1618.60,916.73 L1619.10,916.94 L1619.60,917.14 L1620.10,917.35 L1620.60,917.55 L1621.10,917.76 L1621.60,917.97 L1622.10,918.18 L1622.60,918.39 L1623.10,918.60 L1623.60,918.81 L1624.10,919.03 L1624.60,919.24 L1625.10,919.45 L1625.60,919.67 L1626.10,919.88 L1626.60,920.10 L1627.10,920.31 L1627.60,920.53 L1628.10,920.75 L1628.60,920.96 L1629.10,921.18 L1629.60,921.40 L1630.10,921.61 L1630.60,921.83 L1631.10,922.05 L1631.60,922.26 L1632.10,922.48 L1632.60,922.70 L1633.10,922.91 L1633.60,923.13 L1634.10,923.34 L1634.60,923.56 L1635.10,923.77 L1635.60,923.99 L1636.10,924.20 L1636.60,924.41 L1637.10,924.63 L1637.60,924.84 L1638.10,925.05 L1638.60,925.26 L1639.10,925.47 L1639.60,925.68 L1640.10,925.89 L1640.60,926.10 L1641.10,926.31 L1641.60,926.51 L1642.10,926.72 L1642.60,926.92 L1643.10,927.13 L1643.60,927.33 L1644.10,927.53 L1644.60,927.74 L1645.10,927.94 L1645.60,928.14 L1646.10,928.34 L1646.60,928.53 L1647.10,928.73 L1647.60,928.93 L1648.10,929.12 L1648.60,929.32 L1649.10,929.51 L1649.60,929.70 L1650.10,929.89 L1650.60,930.08 L1651.10,930.27 L1651.60,930.46 L1652.10,930.65 L1652.60,930.84 L1653.10,931.02 L1653.60,931.21 L1654.10,931.39 L1654.60,931.57 L1655.10,931.75 L1655.60,931.93 L1656.10,932.11 L1656.60,932.29 L1657.10,932.47 L1657.60,932.65 L1658.10,932.82 L1658.60,933.00 L1659.10,933.17 L1659.60,933.35 L1660.10,933.52 L1660.60,933.69 L1661.10,933.86 L1661.60,934.03 L1662.10,934.20 L1662.60,934.37 L1663.10,934.54 L1663.60,934.71 L1664.10,934.87 L1664.60,935.04 L1665.10,935.20 L1665.60,935.37 L1666.10,935.53 L1666.60,935.70 L1667.10,935.86 L1667.60,936.02 L1668.10,936.18 L1668.60,936.35 L1669.10,936.51 L1669.60,936.67 L1670.10,936.83 L1670.60,936.99 L1671.10,937.15 L1671.60,937.31 L1672.10,937.47 L1672.60,937.63 L1673.10,937.79 L1673.60,937.94 L1674.10,938.10 L1674.60,938.26 L1675.10,938.42 L1675.60,938.58 L1676.10,938.74 L1676.60,938.90 L1677.10,939.06 L1677.60,939.22 L1678.10,939.37 L1678.60,939.53 L1679.10,939.69 L1679.60,939.85 L1680.10,940.01 L1680.60,940.17 L1681.10,940.34 L1681.60,940.50 L1682.10,940.66 L1682.60,940.82 L1683.10,940.98 L1683.60,941.15 L1684.10,941.31 L1684.60,941.48 L1685.10,941.64 L1685.60,941.81 L1686.10,941.98 L1686.60,942.14 L1687.10,942.31 L1687.60,942.48 L1688.10,942.65 L1688.60,942.82 L1689.10,942.99 L1689.60,943.17 L1690.10,943.34 L1690.60,943.52 L1691.10,943.69 L1691.60,943.87 L1692.10,944.05 L1692.60,944.23 L1693.10,944.41 L1693.60,944.59 L1694.10,944.77 L1694.60,944.96 L1695.10,945.15 L1695.60,945.33 L1696.10,945.52 L1696.60,945.71 L1697.10,945.90 L1697.60,946.10 L1698.10,946.29 L1698.60,946.49 L1699.10,946.69 L1699.60,946.88 L1700.10,947.09 L1700.60,947.29 L1701.10,947.49 L1701.60,947.70 L1702.10,947.91 L1702.60,948.12 L1703.10,948.33 L1703.60,948.54 L1704.10,948.75 L1704.60,948.97 L1705.10,949.19 L1705.60,949.41 L1706.10,949.63 L1706.60,949.85 L1707.10,950.08 L1707.60,950.31 L1708.10,950.54 L1708.60,950.77 L1709.10,951.00 L1709.60,951.24 L1710.10,951.48 L1710.60,951.71 L1711.10,951.96 L1711.60,952.20 L1712.10,952.44 L1712.60,952.69 L1713.10,952.94 L1713.60,953.19 L1714.10,953.45 L1714.60,953.70 L1715.10,953.96 L1715.60,954.22 L1716.10,954.48 L1716.60,954.74 L1717.10,955.01 L1717.60,955.28 L1718.10,955.55 L1718.60,955.82 L1719.10,956.09 L1719.60,956.37 L1720.10,956.65 L1720.60,956.93 L1721.10,957.21 L1721.60,957.49 L1722.10,957.78 L1722.60,958.07 L1723.10,958.36 L1723.60,958.65 L1724.10,958.94 L1724.60,959.24 L1725.10,959.54 L1725.60,959.84 L1726.10,960.14 L1726.60,960.44 L1727.10,960.75 L1727.60,961.06 L1728.10,961.37 L1728.60,961.68 L1729.10,961.99 L1729.60,962.31 L1730.10,962.62 L1730.60,962.94 L1731.10,963.26 L1731.60,963.59 L1732.10,963.91 L1732.60,964.24 L1733.10,964.57 L1733.60,964.90 L1734.10,965.23 L1734.60,965.56 L1735.10,965.90 L1735.60,966.23 L1736.10,966.57 L1736.60,966.91 L1737.10,967.25 L1737.60,967.59 L1738.10,967.94 L1738.60,968.29 L1739.10,968.63 L1739.60,968.98 L1740.10,969.33 L1740.60,969.69 L1741.10,970.04 L1741.60,970.39 L1742.10,970.75 L1742.60,971.11 L1743.10,971.47 L1743.60,971.83 L1744.10,972.19 L1744.60,972.55 L1745.10,972.92 L1745.60,973.28 L1746.10,973.65 L1746.60,974.02 L1747.10,974.39 L1747.60,974.76 L1748.10,975.13 L1748.60,975.50 L1749.10,975.88 L1749.60,976.25 L1750.10,976.63 L1750.60,977.00 L1751.10,977.38 L1751.60,977.76 L1752.10,978.14 L1752.60,978.52 L1753.10,978.90 L1753.60,979.29 L1754.10,979.67 L1754.60,980.06 L1755.10,980.44 L1755.60,980.83 L1756.10,981.21 L1756.60,981.60 L1757.10,981.99 L1757.60,982.38 L1758.10,982.77 L1758.60,983.16 L1759.10,983.55 L1759.60,983.94 L1760.10,984.34 L1760.60,984.73 L1761.10,985.12 L1761.60,985.52 L1762.10,985.91 L1762.60,986.31 L1763.10,986.70 L1763.60,987.10 L1764.10,987.50 L1764.60,987.90 L1765.10,988.29 L1765.60,988.69 L1766.10,989.09 L1766.60,989.49 L1767.10,989.89 L1767.60,990.29 L1768.10,990.69 L1768.60,991.09 L1769.10,991.49 L1769.60,991.89 L1770.10,992.29 L1770.60,992.70 L1771.10,993.10 L1771.60,993.50 L1772.10,993.90 L1772.60,994.30 L1773.10,994.71 L1773.60,995.11 L1774.10,995.51 L1774.60,995.91 L1775.10,996.32 L1775.60,996.72 L1776.10,997.12 L1776.60,997.53 L1777.10,997.93 L1777.60,998.33 L1778.10,998.74 L1778.60,999.14 L1779.10,999.54 L1779.60,999.95 L1780.10,1000.35 L1780.60,1000.75 L1781.10,1001.15 L1781.60,1001.56 L1782.10,1001.96 L1782.60,1002.36 L1783.10,1002.76 L1783.60,1003.17 L1784.10,1003.57 L1784.60,1003.97 L1785.10,1004.37 L1785.60,1004.77 L1786.10,1005.17 L1786.60,1005.57 L1787.10,1005.97 L1787.60,1006.37 L1788.10,1006.77 L1788.60,1007.17 L1789.10,1007.56 L1789.60,1007.96 L1790.10,1008.36 L1790.60,1008.75 L1791.10,1009.15 L1791.60,1009.54 L1792.10,1009.94 L1792.60,1010.33 L1793.10,1010.73 L1793.60,1011.12 L1794.10,1011.51 L1794.60,1011.90 L1795.10,1012.29 L1795.60,1012.68 L1796.10,1013.07 L1796.60,1013.46 L1797.10,1013.85 L1797.60,1014.24 L1798.10,1014.62 L1798.60,1015.01 L1799.10,1015.39 L1799.60,1015.77 L1800.10,1016.16 L1800.60,1016.54 L1801.10,1016.92 L1801.60,1017.30 L1802.10,1017.68 L1802.60,1018.05 L1803.10,1018.43 L1803.60,1018.80 L1804.10,1019.18 L1804.60,1019.55 L1805.10,1019.92 L1805.60,1020.29 L1806.10,1020.66 L1806.60,1021.03 L1807.10,1021.39 L1807.60,1021.76 L1808.10,1022.12 L1808.60,1022.48 L1809.10,1022.85 L1809.60,1023.20 L1810.10,1023.56 L1810.60,1023.92 L1811.10,1024.27 L1811.60,1024.63 L1812.10,1024.98 L1812.60,1025.33 L1813.10,1025.68 L1813.60,1026.02 L1814.10,1026.37 L1814.60,1026.71 L1815.10,1027.06 L1815.60,1027.40 L1816.10,1027.73 L1816.60,1028.07 L1817.10,1028.41 L1817.60,1028.74 L1818.10,1029.07 L1818.60,1029.40 L1819.10,1029.73 L1819.60,1030.05 L1820.10,1030.37 L1820.60,1030.70 L1821.10,1031.02 L1821.60,1031.33 L1822.10,1031.65 L1822.60,1031.96 L1823.10,1032.27 L1823.60,1032.58 L1824.10,1032.89 L1824.60,1033.20 L1825.10,1033.50 L1825.60,1033.80 L1826.10,1034.10 L1826.60,1034.39 L1827.10,1034.69 L1827.60,1034.98 L1828.10,1035.27 L1828.60,1035.56 L1829.10,1035.84 L1829.60,1036.13 L1830.10,1036.41 L1830.60,1036.68 L1831.10,1036.96 L1831.60,1037.23 L1832.10,1037.51 L1832.60,1037.78 L1833.10,1038.04 L1833.60,1038.31 L1834.10,1038.57 L1834.60,1038.83 L1835.10,1039.09 L1835.60,1039.34 L1836.10,1039.59 L1836.60,1039.84 L1837.10,1040.09 L1837.60,1040.34 L1838.10,1040.58 L1838.60,1040.82 L1839.10,1041.06 L1839.60,1041.29 L1840.10,1041.52 L1840.60,1041.76 L1841.10,1041.98 L1841.60,1042.21 L1842.10,1042.43 L1842.60,1042.65 L1843.10,1042.87 L1843.60,1043.09 L1844.10,1043.30 L1844.60,1043.51 L1845.10,1043.72 L1845.60,1043.93 L1846.10,1044.13 L1846.60,1044.33 L1847.10,1044.53 L1847.60,1044.73 L1848.10,1044.92 L1848.60,1045.12 L1849.10,1045.31 L1849.60,1045.49 L1850.10,1045.68 L1850.60,1045.86 L1851.10,1046.04 L1851.60,1046.22 L1852.10,1046.40 L1852.60,1046.57 L1853.10,1046.74 L1853.60,1046.91 L1854.10,1047.08 L1854.60,1047.24 L1855.10,1047.40 L1855.60,1047.56 L1856.10,1047.72 L1856.60,1047.88 L1857.10,1048.03 L1857.60,1048.18 L1858.10,1048.33 L1858.60,1048.48 L1859.10,1048.63 L1859.60,1048.77 L1860.10,1048.91 L1860.60,1049.05 L1861.10,1049.19 L1861.60,1049.32 L1862.10,1049.46 L1862.60,1049.59 L1863.10,1049.72 L1863.60,1049.84 L1864.10,1049.97 L1864.60,1050.09 L1865.10,1050.22 L1865.60,1050.34 L1866.10,1050.45 L1866.60,1050.57 L1867.10,1050.68 L1867.60,1050.80 L1868.10,1050.91 L1868.60,1051.02 L1869.10,1051.13 L1869.60,1051.23 L1870.10,1051.34 L1870.60,1051.44 L1871.10,1051.54 L1871.60,1051.64 L1872.10,1051.74 L1872.60,1051.84 L1873.10,1051.93 L1873.60,1052.03 L1874.10,1052.12 L1874.60,1052.21 L1875.10,1052.30 L1875.60,1052.39 L1876.10,1052.47 L1876.60,1052.56 L1877.10,1052.64 L1877.60,1052.73 L1878.10,1052.81 L1878.60,1052.89 L1879.10,1052.97 L1879.60,1053.04 L1880.10,1053.12 L1880.60,1053.20 L1881.10,1053.27 L1881.60,1053.34 L1882.10,1053.41 L1882.60,1053.49 L1883.10,1053.56 L1883.60,1053.62 L1884.10,1053.69 L1884.60,1053.76 L1885.10,1053.82 L1885.60,1053.89 L1886.10,1053.95 L1886.60,1054.01 L1887.10,1054.08 L1887.60,1054.14 L1888.10,1054.20 L1888.60,1054.25 L1889.10,1054.31 L1889.60,1054.37 L1890.10,1054.43 L1890.60,1054.48 L1891.10,1054.54 L1891.60,1054.59 L1892.10,1054.64 L1892.60,1054.69 L1893.10,1054.75 L1893.60,1054.80 L1894.10,1054.85 L1894.60,1054.90 L1895.10,1054.94 L1895.60,1054.99 L1896.10,1055.04 L1896.60,1055.09 L1897.10,1055.13 L1897.60,1055.18 L1898.10,1055.22 L1898.60,1055.26 L1899.10,1055.31 L1899.60,1055.35 L1900.10,1055.39 L1900.60,1055.43 L1901.10,1055.47 L1901.20,1055.48" stroke="#030070"/>
</g>
<g stroke="#000" stroke-width="1.8">
<line x1="319.10" y1="1057.75" x2="319.10" y2="1065.05"/>
<line x1="569.40" y1="1057.75" x2="569.40" y2="1065.05"/>
<line x1="819.70" y1="1057.75" x2="819.70" y2="1065.05"/>
<line x1="1070.00" y1="1057.75" x2="1070.00" y2="1065.05"/>
<line x1="1320.30" y1="1057.75" x2="1320.30" y2="1065.05"/>
<line x1="1570.60" y1="1057.75" x2="1570.60" y2="1065.05"/>
<line x1="1820.90" y1="1057.75" x2="1820.90" y2="1065.05"/>
<line x1="114.0" y1="1057.70" x2="106.70" y2="1057.70"/>
<line x1="114.0" y1="910.05" x2="106.70" y2="910.05"/>
<line x1="114.0" y1="762.40" x2="106.70" y2="762.40"/>
<line x1="114.0" y1="614.75" x2="106.70" y2="614.75"/>
<line x1="114.0" y1="467.10" x2="106.70" y2="467.10"/>
<line x1="114.0" y1="319.45" x2="106.70" y2="319.45"/>
<line x1="114.0" y1="171.80" x2="106.70" y2="171.80"/>
</g>
<rect x="114.0" y="44.0" width="1872.30" height="1013.75" fill="none" stroke="#000" stroke-width="1.85" stroke-linejoin="miter"/>
<g font-family="'DejaVu Sans', 'Liberation Sans', sans-serif" fill="#000" text-rendering="geometricPrecision">
<text id="title" x="1050.05" y="32.5" font-size="24" text-anchor="middle">Heating Cost Savings Distributions for All Scenarios</text>
<text id="xlabel" x="1049.85" y="1116.1" font-size="20" text-anchor="middle">Heating Savings (€ per year)</text>
<text id="ylabel" transform="translate(30.1,550.65) rotate(-90)" font-size="20" text-anchor="middle">Probability Density</text>
<text class="xt" x="319.40" y="1087.5" font-size="20" text-anchor="middle">1000</text>
<text class="xt" x="569.70" y="1087.5" font-size="20" text-anchor="middle">2000</text>
<text class="xt" x="820.00" y="1087.5" font-size="20" text-anchor="middle">3000</text>
<text class="xt" x="1070.30" y="1087.5" font-size="20" text-anchor="middle">4000</text>
<text class="xt" x="1320.60" y="1087.5" font-size="20" text-anchor="middle">5000</text>
<text class="xt" x="1570.90" y="1087.5" font-size="20" text-anchor="middle">6000</text>
<text class="xt" x="1821.20" y="1087.5" font-size="20" text-anchor="middle">7000</text>
<text class="yt" x="100.5" y="1065.40" font-size="20" text-anchor="end">0.000</text>
<text class="yt" x="100.5" y="917.75" font-size="20" text-anchor="end">0.001</text>
<text class="yt" x="100.5" y="770.10" font-size="20" text-anchor="end">0.002</text>
<text class="yt" x="100.5" y="622.45" font-size="20" text-anchor="end">0.003</text>
<text class="yt" x="100.5" y="474.80" font-size="20" text-anchor="end">0.004</text>
<text class="yt" x="100.5" y="327.15" font-size="20" text-anchor="end">0.005</text>
<text class="yt" x="100.5" y="179.50" font-size="20" text-anchor="end">0.006</text>
</g>
<rect x="1524.1" y="54.0" width="451.80" height="128.90" rx="4" ry="4" fill="#fff" fill-opacity="0.8" stroke="#ccc" stroke-opacity="0.8" stroke-width="1.9"/>
<g font-family="'DejaVu Sans', 'Liberation Sans', sans-serif" fill="#000" font-size="20" text-rendering="geometricPrecision">
<line x1="1531.4" y1="70.90" x2="1571.7" y2="70.90" stroke="#f0b23f" stroke-width="4" stroke-linecap="square"/>
<text class="lg" x="1587.2" y="78.00">S01_simple_shading-extra</text>
<line x1="1531.4" y1="101.42" x2="1571.7" y2="101.42" stroke="#ff8c00" stroke-width="4" stroke-linecap="square"/>
<text class="lg" x="1587.2" y="108.53">S02_simple_paint &amp; S04 simple combi</text>
<line x1="1531.4" y1="131.94" x2="1571.7" y2="131.94" stroke="#ee8fbb" stroke-width="4" stroke-linecap="square"/>
<text class="lg" x="1587.2" y="139.06">M01_medium_shading</text>
<line x1="1531.4" y1="162.46" x2="1571.7" y2="162.46" stroke="#030070" stroke-width="4" stroke-linecap="square"/>
<text class="lg" x="1587.2" y="169.59">D01_deep_shading</text>
</g>
</svg>
</body></html>
